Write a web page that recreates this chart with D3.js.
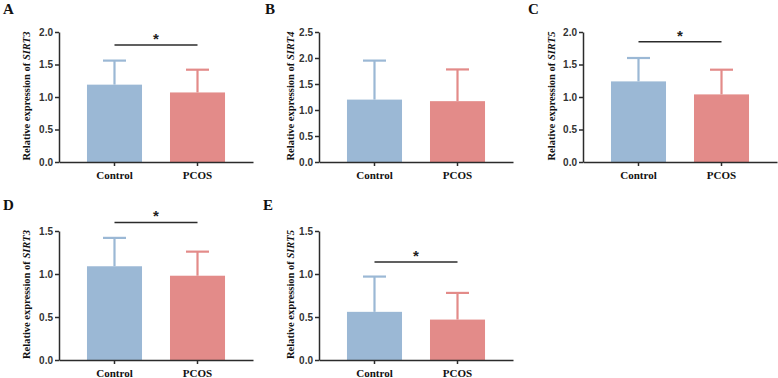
<!DOCTYPE html>
<html>
<head>
<meta charset="utf-8">
<script src="https://cdn.jsdelivr.net/npm/d3@7"></script>
<style>
  body { margin: 0; background: #fff; }
  svg { display: block; }
</style>
</head>
<body>
<div id="chart"></div>
<script>
// data
const groups = ['Control', 'PCOS'];
const panelLetters = ['A', 'B', 'C', 'D', 'E'];
const genes = ['SIRT3', 'SIRT4', 'SIRT5', 'SIRT3', 'SIRT5'];
const meanControl = [1.19, 1.20, 1.24, 1.09, 0.56];
const meanPCOS = [1.07, 1.17, 1.04, 0.98, 0.47];
const upperControl = [1.56, 1.95, 1.60, 1.42, 0.97];
const upperPCOS = [1.42, 1.78, 1.42, 1.26, 0.78];
const yMax = [2.0, 2.5, 2.0, 1.5, 1.5];
const yStep = [0.5, 0.5, 0.5, 0.5, 0.5];
const sigLevel = [1.80, null, 1.85, 1.60, 1.14];

// layout
const W = 778, H = 378;
const C = { blue: '#9bb8d5', red: '#e38b89', axis: '#2b2b2b' };
const layout = [
  { ax: 59, top: 32, bottom: 162, labX: 28, letX: 3, letY: 14, catY: 179 },
  { ax: 319, top: 32, bottom: 162, labX: 292, letX: 265, letY: 14, catY: 179 },
  { ax: 583, top: 32, bottom: 162, labX: 553, letX: 528, letY: 14, catY: 179 },
  { ax: 59, top: 231, bottom: 360, labX: 28, letX: 3, letY: 210, catY: 377 },
  { ax: 319, top: 231, bottom: 360, labX: 292, letX: 263, letY: 210, catY: 377 }
];
const axisLen = 194;

const svg = d3.select('#chart').append('svg')
  .attr('width', W).attr('height', H)
  .attr('viewBox', `0 0 ${W} ${H}`);

panelLetters.forEach((letter, i) => {
  const L = layout[i];
  const g = svg.append('g');

  const x = d3.scaleBand()
    .domain(groups)
    .range([L.ax, L.ax + axisLen])
    .padding(0.337);
  const y = d3.scaleLinear()
    .domain([0, yMax[i]])
    .range([L.bottom, L.top]);

  const rows = [
    { k: groups[0], m: meanControl[i], u: upperControl[i], c: C.blue },
    { k: groups[1], m: meanPCOS[i], u: upperPCOS[i], c: C.red }
  ];

  // error bars (behind bars)
  const capW = 23;
  rows.forEach(d => {
    const cx = x(d.k) + x.bandwidth() / 2;
    g.append('line')
      .attr('x1', cx).attr('x2', cx)
      .attr('y1', y(d.m)).attr('y2', y(d.u))
      .attr('stroke', d.c).attr('stroke-width', 2.2);
    g.append('line')
      .attr('x1', cx - capW / 2).attr('x2', cx + capW / 2)
      .attr('y1', y(d.u)).attr('y2', y(d.u))
      .attr('stroke', d.c).attr('stroke-width', 2.2);
  });

  g.selectAll('rect.bar')
    .data(rows)
    .enter().append('rect')
    .attr('class', 'bar')
    .attr('x', d => x(d.k))
    .attr('y', d => y(d.m))
    .attr('width', x.bandwidth())
    .attr('height', d => y(0) - y(d.m))
    .attr('fill', d => d.c);

  // y axis
  const ticks = d3.range(0, yMax[i] + 1e-9, yStep[i]);
  const yAxis = g.append('g')
    .attr('transform', `translate(${L.ax},0)`)
    .call(d3.axisLeft(y).tickValues(ticks).tickFormat(d3.format('.1f')).tickSize(4).tickSizeOuter(0));
  yAxis.select('.domain').attr('stroke', C.axis).attr('stroke-width', 1.5);
  yAxis.selectAll('.tick line').attr('stroke', C.axis).attr('stroke-width', 1.5);
  yAxis.selectAll('.tick text')
    .attr('fill', '#333')
    .attr('x', -6)
    .style('font-family', 'Arial, "Liberation Sans", sans-serif')
    .style('font-weight', 'bold')
    .style('font-size', '10px');

  // x axis
  const xAxis = g.append('g')
    .attr('transform', `translate(0,${L.bottom})`)
    .call(d3.axisBottom(x).tickSize(4).tickSizeOuter(0));
  xAxis.select('.domain').attr('stroke', C.axis).attr('stroke-width', 1.5);
  xAxis.selectAll('.tick line').attr('stroke', C.axis).attr('stroke-width', 1.5);
  xAxis.selectAll('.tick text').remove();
  g.selectAll('text.cat')
    .data(groups)
    .enter().append('text')
    .attr('class', 'cat')
    .attr('x', d => x(d) + x.bandwidth() / 2)
    .attr('y', L.catY)
    .attr('text-anchor', 'middle')
    .style('font-family', '"Liberation Serif", "Times New Roman", serif')
    .style('font-weight', 'bold')
    .style('font-size', '11px')
    .attr('fill', '#111')
    .text(d => d);

  // y label
  const lab = g.append('text')
    .attr('transform', `translate(${L.labX},${(L.top + L.bottom) / 2 - 1}) rotate(-90)`)
    .attr('text-anchor', 'middle')
    .attr('dominant-baseline', 'middle')
    .style('font-family', '"Liberation Serif", "Times New Roman", serif')
    .style('font-weight', 'bold')
    .style('font-size', '10.5px')
    .attr('fill', '#111');
  lab.append('tspan').text('Relative expression of ');
  lab.append('tspan').style('font-style', 'italic').text(genes[i]);

  // significance
  if (sigLevel[i] !== null) {
    const x1 = x(groups[0]) + x.bandwidth() / 2;
    const x2 = x(groups[1]) + x.bandwidth() / 2;
    const sy = y(sigLevel[i]);
    g.append('line')
      .attr('x1', x1).attr('x2', x2)
      .attr('y1', sy).attr('y2', sy)
      .attr('stroke', C.axis).attr('stroke-width', 1.5);
    g.append('text')
      .attr('x', (x1 + x2) / 2)
      .attr('y', sy - 1)
      .attr('text-anchor', 'middle')
      .style('font-family', 'Arial, "Liberation Sans", sans-serif')
      .style('font-weight', 'bold')
      .style('font-size', '15px')
      .attr('fill', '#222')
      .text('*');
  }

  // panel letter
  g.append('text')
    .attr('x', L.letX)
    .attr('y', L.letY)
    .style('font-family', '"Liberation Serif", "Times New Roman", serif')
    .style('font-weight', 'bold')
    .style('font-size', '15px')
    .attr('fill', '#111')
    .text(letter);
});
</script>
</body>
</html>
